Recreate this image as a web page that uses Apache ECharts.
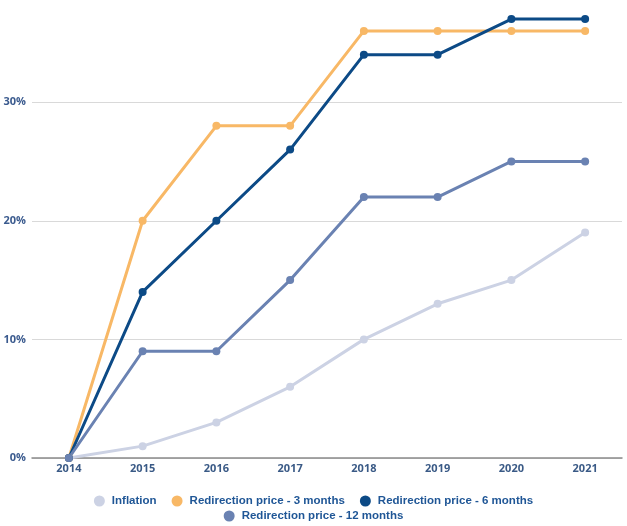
<!DOCTYPE html>
<html>
<head>
<meta charset="utf-8">
<script src="https://cdn.jsdelivr.net/npm/echarts@6/dist/echarts.min.js"></script>
<style>
  html, body { margin: 0; padding: 0; background: #fff; overflow: hidden; }
  /* chart is shifted up so the 40% gridline sits above the visible area */
  #chart { width: 627px; height: 548px; position: absolute; left: 0; top: -22px; }
</style>
</head>
<body>
<div id="chart"></div>
<script>
// years on the x axis
var years = ['2014', '2015', '2016', '2017', '2018', '2019', '2020', '2021'];
// cumulative % per year
var inflation = [0, 1, 3, 6, 10, 13, 15, 19];
var redir3m = [0, 20, 28, 28, 36, 36, 36, 36];
var redir6m = [0, 14, 20, 26, 34, 34, 37, 37];
var redir12m = [0, 9, 9, 15, 22, 22, 25, 25];

var names = ['Inflation', 'Redirection price - 3 months', 'Redirection price - 6 months', 'Redirection price - 12 months'];
var colors = ['#ccd2e4', '#f8b866', '#0c4a86', '#6a82b2'];

function mkSeries(name, data, color) {
  return {
    name: name,
    type: 'line',
    data: data,
    symbol: 'circle',
    symbolSize: 8,
    lineStyle: { width: 3, color: color },
    itemStyle: { color: color },
    emphasis: { disabled: true }
  };
}

var chart = echarts.init(document.getElementById('chart'));
var legendText = { color: '#1f5696', fontWeight: 'bold', fontSize: 11.5, fontFamily: 'Liberation Sans', padding: [0, 0, 0, 2] };

var option = {
  animation: false,
  color: colors,
  grid: { left: 32, right: 5, top: 0, bottom: 68 },
  legend: [
    {
      data: names.slice(0, 3),
      left: 'center', top: 512,
      icon: 'circle', itemWidth: 11, itemHeight: 11, itemGap: 15,
      textStyle: legendText
    },
    {
      data: names.slice(3),
      left: 'center', top: 527,
      icon: 'circle', itemWidth: 11, itemHeight: 11,
      textStyle: legendText
    }
  ],
  xAxis: {
    type: 'category',
    data: years,
    boundaryGap: true,
    axisLine: { lineStyle: { color: '#8a8a8a', width: 1.5 } },
    axisTick: { show: false },
    axisLabel: { color: '#3a5a86', fontWeight: 'bold', fontSize: 11, fontFamily: 'Open Sans', margin: 5 }
  },
  yAxis: {
    type: 'value',
    min: 0, max: 40, interval: 10,
    axisLine: { show: false },
    axisTick: { show: false },
    axisLabel: { color: '#3a5a8e', fontWeight: 'bold', fontSize: 11, fontFamily: 'Open Sans', margin: 6,
      formatter: '{value}%' },
    splitLine: { lineStyle: { color: '#d9d9d9', width: 1 } }
  },
  series: [
    mkSeries(names[0], inflation, colors[0]),
    mkSeries(names[1], redir3m, colors[1]),
    mkSeries(names[2], redir6m, colors[2]),
    mkSeries(names[3], redir12m, colors[3])
  ]
};
chart.setOption(option);
</script>
</body>
</html>
